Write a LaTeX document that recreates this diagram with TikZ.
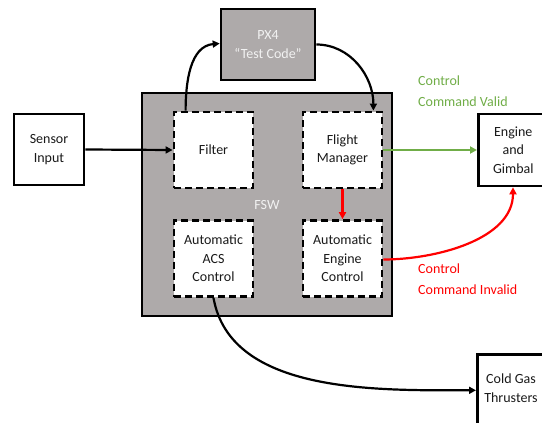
\documentclass[tikz,border=0pt]{standalone}
\usepackage{fontspec}
\setmainfont{Carlito}
\usetikzlibrary{arrows.meta,calc}
\definecolor{boxgray}{HTML}{AEAAAA}
\definecolor{okgreen}{HTML}{70AD47}
\definecolor{badred}{HTML}{FF0000}
\definecolor{txtgray}{HTML}{1A1A1A}
\tikzset{
  solidbox/.style={draw=black,line width=2.6pt,fill=white,align=center,inner sep=0pt,
    font=\fontsize{14}{18.5}\selectfont,text=txtgray},
  graybox/.style={draw=black,line width=2.6pt,fill=boxgray,align=center,inner sep=0pt,
    font=\fontsize{14}{18.5}\selectfont,text=white!95!black},
  dashbox/.style={draw=black,line width=2.8pt,dash pattern=on 7pt off 4pt,fill=white,
    align=center,inner sep=0pt,minimum width=79pt,minimum height=76pt,
    font=\fontsize{14}{18.5}\selectfont,text=txtgray},
  conn/.style={line width=2.2pt,-{Triangle[length=7pt,width=7pt]}},
  lbl/.style={align=left,anchor=north west,inner sep=0pt,font=\fontsize{14}{21}\selectfont}
}
\begin{document}
\begin{tikzpicture}[x=1pt,y=-1pt]
\useasboundingbox (0,0) rectangle (542,423);
% FSW container
\node[graybox,minimum width=250pt,minimum height=223pt] (fsw) at (267,204.5) {};
\node[text=white!95!black,font=\fontsize{14}{18}\selectfont] (fswlbl) at (267,205) {FSW};
% PX4
\node[graybox,minimum width=94pt,minimum height=71pt] (px4) at (268,44.5) {PX4\\``Test Code''};
% inner boxes
\node[dashbox] (filter) at (213.5,150) {Filter};
\node[dashbox] (fm) at (342.5,150) {Flight\\Manager};
\node[dashbox] (acs) at (213.5,258.5) {Automatic\\ACS\\Control};
\node[dashbox] (aec) at (342.5,258.5) {Automatic\\Engine\\Control};
% outer boxes
\node[solidbox,minimum width=70pt,minimum height=71pt] (sensor) at (49,149.5) {Sensor\\Input};
\node[solidbox,minimum width=70pt,minimum height=72pt,anchor=west] (eg) at (477,150) {Engine\\and\\Gimbal};
\node[solidbox,minimum width=70pt,minimum height=72pt,anchor=north west] (cgt) at (476,353) {};
\node[text=txtgray,align=center,font=\fontsize{14}{18.5}\selectfont] (cgtlbl) at (511,388) {Cold Gas\\Thrusters};
% labels
\node[lbl,text=okgreen] (validlbl) at (418,76) {Control\\Command Valid};
\node[lbl,text=badred] (invalidlbl) at (418,264) {Control\\Command Invalid};
% connectors
\draw[conn] (sensor.east) -- (filter.west);
\draw[conn] ($(filter.north west)+(13,0)$) to[out=90,in=185,looseness=1] ($(px4.west)+(0,-1)$);
\draw[conn] ($(px4.east)+(0,0)$) to[out=0,in=90,looseness=1] ($(fm.north east)+(-10,0)$);
\draw[conn,color=okgreen] (fm.east) -- (eg.west);
\draw[conn,color=badred] (fm.south) -- (aec.north);
\draw[conn,color=badred] ($(aec.east)+(0,1)$) to[out=0,in=-90,looseness=0.9] ($(eg.south west)+(36,0)$);
\draw[conn] ($(acs.south)+(0,0)$) to[out=-80,in=180,looseness=0.9] (cgt.west);
\end{tikzpicture}
\end{document}
